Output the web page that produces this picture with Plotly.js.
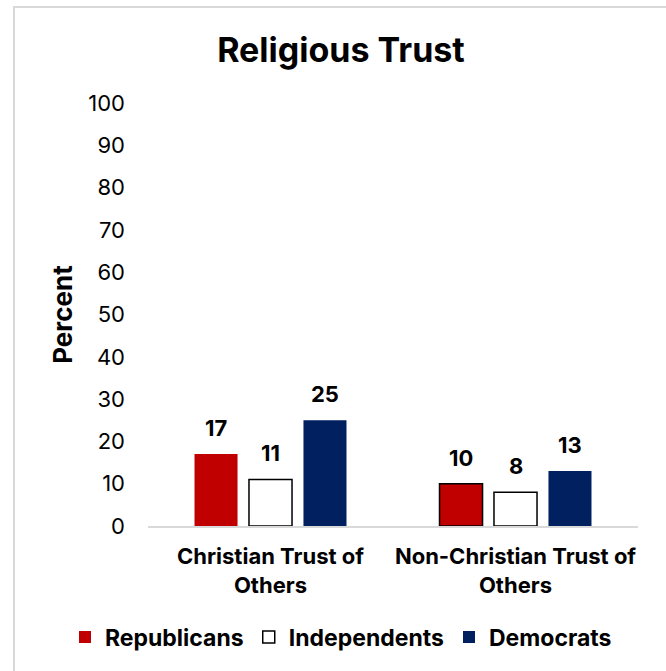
<!DOCTYPE html>
<html>
<head>
<meta charset="utf-8">
<script src="https://cdn.plot.ly/plotly-3.0.1.min.js"></script>
<style>
  html, body { margin: 0; padding: 0; background: #fff; overflow: hidden; }
  #chart { position: absolute; left: 0; top: 0; width: 666px; height: 671px; }
  #frame { position: absolute; left: 13px; top: 6px; width: 720px; height: 720px;
           border-left: 2px solid #d9d9d9; border-top: 2px solid #d9d9d9;
           pointer-events: none; z-index: 10; }
</style>
</head>
<body>
<div id="chart"></div>
<div id="frame"></div>
<script>
const categories = ["Christian Trust of<br>Others", "Non-Christian Trust of<br>Others"];
const seriesNames = ["Republicans", "Independents", "Democrats"];
const republicans = [17, 10];
const independents = [11, 8];
const democrats = [25, 13];
const yTicks = [0, 10, 20, 30, 40, 50, 60, 70, 80, 90, 100];

const FONT = "Inter, 'Open Sans', sans-serif";
const bargap = 0.333;
const bargroupgap = 0.21;
const plotLeft = 148, plotRight = 28, plotTop = 103, plotBottom = 145;
const plotW = 666 - plotLeft - plotRight;
const plotH = 671 - plotTop - plotBottom;
const catPx = plotW / categories.length;
const slotPx = catPx * (1 - bargap) / 3;

const seriesVals = [republicans, independents, democrats];
const styles = [
  {color: "#C00000", line: {color: "#000000", width: [0, 1.5]}},
  {color: "#FFFFFF", line: {color: "#000000", width: 1.5}},
  {color: "#002060", line: {color: "#002060", width: 0}}
];

const traces = seriesNames.map((name, i) => ({
  type: "bar",
  name: name,
  x: categories,
  y: seriesVals[i],
  marker: styles[i],
  hoverinfo: "skip"
}));

const annotations = [];
seriesVals.forEach((vals, i) => {
  vals.forEach((v, j) => {
    annotations.push({
      x: categories[j], y: v, xref: "x", yref: "y",
      text: String(v), showarrow: false,
      xshift: (i - 1) * slotPx, yshift: 11, yanchor: "bottom",
      font: {family: FONT, size: 22, color: "#000", weight: 700}
    });
  });
});

// legend placement (pixels in page converted to paper fractions)
const legendLeftPx = 65, legendMidYPx = 637;

const layout = {
  width: 666, height: 671,
  margin: {l: plotLeft, r: plotRight, t: plotTop, b: plotBottom, pad: 0},
  paper_bgcolor: "#fff", plot_bgcolor: "#fff",
  barmode: "group", bargap: bargap, bargroupgap: bargroupgap,
  showlegend: true,
  title: {text: "<b>Religious Trust</b>", x: 0.512, xref: "container", xanchor: "center",
          y: 0.925, yref: "container", yanchor: "middle",
          font: {family: FONT, size: 34, color: "#000"}},
  xaxis: {
    type: "category", range: [-0.5, 1.5],
    showline: true, linecolor: "#d9d9d9", linewidth: 2,
    ticks: "", showgrid: false, zeroline: false,
    ticklabelstandoff: 10,
    tickfont: {family: FONT, size: 22, color: "#000", weight: 700}
  },
  yaxis: {
    range: [0, 100], tickvals: yTicks, ticktext: yTicks.map(String),
    showline: false, showgrid: false, zeroline: false, ticks: "",
    ticklabelstandoff: 22,
    tickfont: {family: FONT, size: 22, color: "#000"},
    title: {text: "<b>Percent</b>", standoff: 8,
            font: {family: FONT, size: 26, color: "#000"}}
  },
  legend: {orientation: "h", xref: "paper", x: (legendLeftPx - plotLeft) / plotW, xanchor: "left",
           yref: "paper", y: -(legendMidYPx - (plotTop + plotH)) / plotH, yanchor: "middle",
           font: {family: FONT, size: 23, color: "#000", weight: 700},
           itemwidth: 30, traceorder: "normal"},
  annotations: annotations
};

Plotly.newPlot("chart", traces, layout, {staticPlot: true, displayModeBar: false});
</script>
</body>
</html>
